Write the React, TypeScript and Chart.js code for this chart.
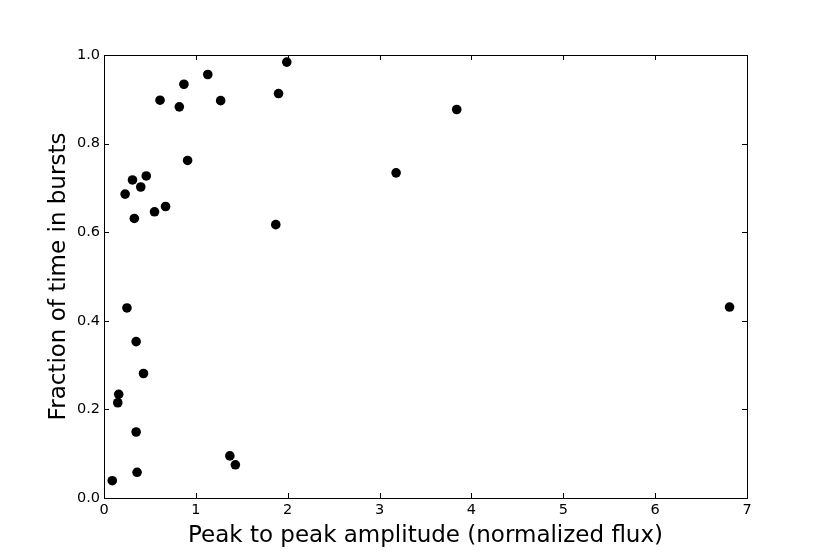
import React, { useEffect, useRef } from "react";
import { Chart, registerables } from "chart.js";

Chart.register(...registerables);

const amplitude: number[] = [
  1.99, 1.13, 0.87, 1.9, 0.61, 1.27, 0.82, 0.91, 0.31, 0.46, 0.4, 0.23, 0.33, 0.55,
  0.67, 1.87, 0.25, 0.35, 0.43, 0.16, 0.15, 0.35, 1.37, 1.43, 0.36, 0.09, 3.18, 3.84, 6.81,
];
const burstFraction: number[] = [
  0.984, 0.956, 0.934, 0.913, 0.898, 0.897, 0.883, 0.762, 0.718, 0.727, 0.702, 0.686, 0.631, 0.646,
  0.658, 0.617, 0.429, 0.353, 0.281, 0.234, 0.215, 0.149, 0.095, 0.075, 0.058, 0.039, 0.734, 0.877, 0.431,
];
const xTicks: number[] = [0, 1, 2, 3, 4, 5, 6, 7];
const yTicks: number[] = [0, 0.2, 0.4, 0.6, 0.8, 1.0];
const xLabel = "Peak to peak amplitude (normalized flux)";
const yLabel = "Fraction of time in bursts";

const FONT = "'DejaVu Sans', sans-serif";

const framePlugin = {
  id: "mplFrame",
  afterDraw(chart: any) {
    const { ctx, chartArea, scales } = chart;
    const { left, right, top, bottom } = chartArea;
    ctx.save();
    ctx.strokeStyle = "#000";
    ctx.lineWidth = 1;
    const tl = 5;
    ctx.beginPath();
    for (const v of xTicks) {
      const px = Math.round(scales.x.getPixelForValue(v)) + 0.5;
      ctx.moveTo(px, bottom);
      ctx.lineTo(px, bottom - tl);
      ctx.moveTo(px, top);
      ctx.lineTo(px, top + tl);
    }
    for (const v of yTicks) {
      const py = Math.round(scales.y.getPixelForValue(v)) + 0.5;
      ctx.moveTo(left, py);
      ctx.lineTo(left + tl, py);
      ctx.moveTo(right, py);
      ctx.lineTo(right - tl, py);
    }
    ctx.stroke();
    ctx.strokeRect(Math.round(left) + 0.5, Math.round(top) + 0.5, Math.round(right - left), Math.round(bottom - top));
    ctx.restore();
  },
};

export default function App() {
  const ref = useRef<HTMLCanvasElement | null>(null);
  useEffect(() => {
    if (!ref.current) return;
    const points = amplitude.map((x, i) => ({ x, y: burstFraction[i] }));
    const chart = new Chart(ref.current, {
      type: "scatter",
      data: {
        datasets: [
          {
            data: points,
            backgroundColor: "#000",
            borderColor: "#000",
            borderWidth: 0,
            pointRadius: 4.8,
            pointHoverRadius: 4.8,
          },
        ],
      },
      plugins: [framePlugin],
      options: {
        animation: false,
        responsive: false,
        events: [],
        layout: { padding: { left: 0, top: 55, right: 83, bottom: 0 } },
        plugins: { legend: { display: false }, tooltip: { enabled: false } },
        scales: {
          x: {
            type: "linear",
            min: 0,
            max: 7,
            afterBuildTicks: (s: any) => {
              s.ticks = xTicks.map((v) => ({ value: v }));
            },
            afterFit: (s: any) => {
              s.height = 56;
            },
            grid: { display: false, drawTicks: false },
            border: { display: false },
            ticks: {
              color: "#000",
              padding: 4,
              font: { family: FONT, size: 14.5 },
              callback: (v: any) => String(v),
              maxRotation: 0,
            },
            title: {
              display: true,
              text: xLabel,
              color: "#000",
              font: { family: FONT, size: 23 },
              padding: { top: 0, bottom: 4 },
            },
          },
          y: {
            type: "linear",
            min: 0,
            max: 1,
            afterBuildTicks: (s: any) => {
              s.ticks = yTicks.map((v) => ({ value: v }));
            },
            afterFit: (s: any) => {
              s.width = 104;
            },
            grid: { display: false, drawTicks: false },
            border: { display: false },
            ticks: {
              color: "#000",
              padding: 4,
              font: { family: FONT, size: 14.5 },
              callback: (v: any) => Number(v).toFixed(1),
            },
            title: {
              display: true,
              text: yLabel,
              color: "#000",
              font: { family: FONT, size: 23 },
              padding: { top: 45, bottom: 0 },
            },
          },
        },
      },
    });
    return () => chart.destroy();
  }, []);
  return (
    <div style={{ position: "fixed", left: 0, top: 0, width: 830, height: 554, background: "#fff" }}>
      <canvas ref={ref} width={830} height={554} style={{ display: "block" }} />
    </div>
  );
}
